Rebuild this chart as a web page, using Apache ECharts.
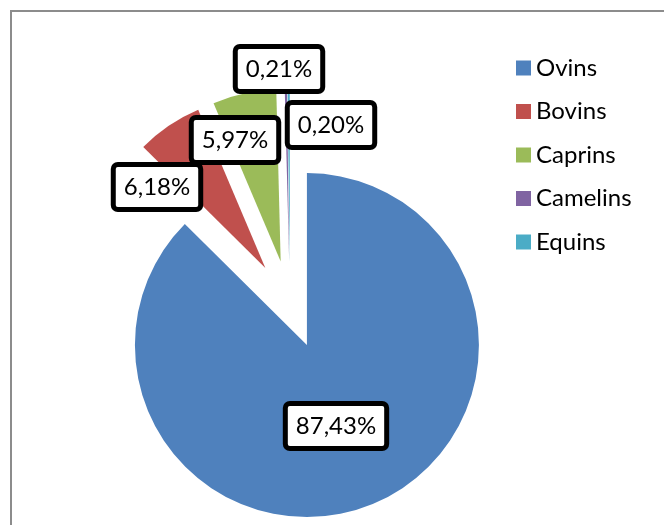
<!DOCTYPE html>
<html>
<head>
<meta charset="utf-8">
<script src="https://cdn.jsdelivr.net/npm/echarts@6/dist/echarts.min.js"></script>
<style>
html,body{margin:0;padding:0;background:#fff;}
#c{width:664px;height:525px;}
</style>
</head>
<body>
<div id="c"></div>
<script>
const categories = ['Ovins', 'Bovins', 'Caprins', 'Camelins', 'Equins'];
const values = [87.43, 6.18, 5.97, 0.21, 0.20];
const colors = ['#4F81BD', '#C0504D', '#9BBB59', '#8064A2', '#4BACC6'];

// data-label anchor positions (layout only)
const labelPos = [[336, 426], [157, 187], [235, 140], [279, 69], [331, 125]];

const chart = echarts.init(document.getElementById('c'), null, {renderer: 'canvas'});
const font = 'Lato, "DejaVu Sans", sans-serif';
const fmt = v => v.toFixed(2).replace('.', ',') + '%';

const labelGraphics = values.map((v, i) => ({
  type: 'text',
  x: labelPos[i][0],
  y: labelPos[i][1],
  z: 100,
  silent: true,
  style: {
    text: fmt(v),
    fontFamily: 'Lato',
    fontSize: 24,
    lineHeight: 26,
    fill: '#000',
    align: 'center',
    verticalAlign: 'middle',
    backgroundColor: '#fff',
    borderColor: '#000',
    borderWidth: 5,
    borderRadius: 2,
    padding: [7, 8]
  }
}));

chart.setOption({
  animation: false,
  backgroundColor: '#ffffff',
  graphic: [{
    type: 'rect',
    shape: {x: 11, y: 11, width: 720, height: 620},
    style: {fill: 'none', stroke: '#8c8c8c', lineWidth: 2},
    silent: true
  }].concat(labelGraphics),
  legend: {
    orient: 'vertical',
    left: 511,
    top: 51,
    itemWidth: 15,
    itemHeight: 15,
    itemGap: 19.5,
    icon: 'rect',
    textStyle: {fontFamily: font, fontSize: 24, color: '#000', lineHeight: 24},
    selectedMode: false,
    data: categories
  },
  series: [{
    type: 'pie',
    center: [290, 304.5],
    radius: 172,
    startAngle: 90,
    clockwise: true,
    selectedMode: 'multiple',
    selectedOffset: 44,
    avoidLabelOverlap: false,
    emphasis: {disabled: true},
    itemStyle: {borderWidth: 0},
    label: {show: false},
    labelLine: {show: false},
    data: categories.map((name, i) => ({
      name: name,
      value: values[i],
      selected: true,
      itemStyle: {color: colors[i]}
    }))
  }]
});
</script>
</body>
</html>
